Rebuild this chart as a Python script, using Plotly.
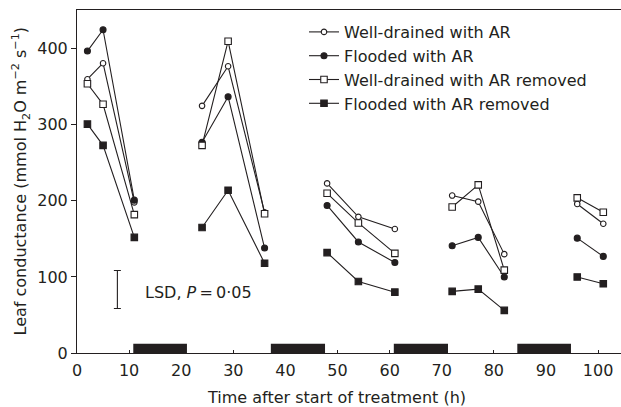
import plotly.graph_objects as go

# ---- data ----
time_groups = [[2, 5, 11], [24, 29, 36], [48, 54, 61], [72, 77, 82], [96, 101]]
wd_ar = [[360, 381, 198], [325, 377, 185], [223, 179, 163], [207, 199, 130], [196, 170]]
fl_ar = [[397, 425, 201], [277, 337, 138], [194, 146, 119], [141, 152, 100], [151, 127]]
wd_rm = [[354, 327, 182], [273, 410, 183], [210, 171, 131], [192, 221, 109], [204, 185]]
fl_rm = [[301, 273, 152], [165, 214, 118], [132, 94, 80], [81, 84, 56], [100, 91]]
series_names = ["Well-drained with AR", "Flooded with AR",
                "Well-drained with AR removed", "Flooded with AR removed"]
dark_periods = [(10.8, 21.1), (37.2, 47.6), (60.8, 71.2), (84.5, 94.8)]
dark_height = 12
lsd_x, lsd_center, lsd_half = 7.75, 83.5, 25
x_ticks = list(range(0, 101, 10))
y_ticks = [0, 100, 200, 300, 400]

INK = "#231f20"
FONT = "DejaVu Sans"


def flatten(groups_t, groups_v):
    xs, ys = [], []
    for i, (t, v) in enumerate(zip(groups_t, groups_v)):
        if i:
            xs.append(None)
            ys.append(None)
        xs += t
        ys += v
    return xs, ys


styles = [
    dict(symbol="circle", size=5.5, color="white"),
    dict(symbol="circle", size=6, color=INK),
    dict(symbol="square", size=6.5, color="white"),
    dict(symbol="square", size=6.5, color=INK),
]

fig = go.Figure()
for name, vals, st in zip(series_names, [wd_ar, fl_ar, wd_rm, fl_rm], styles):
    xs, ys = flatten(time_groups, vals)
    fig.add_trace(go.Scatter(
        x=xs, y=ys, name=name, mode="lines+markers",
        line=dict(color=INK, width=1.1),
        marker=dict(symbol=st["symbol"], size=st["size"], color=st["color"],
                    line=dict(color=INK, width=1.1)),
        connectgaps=False,
    ))

# LSD bar
fig.add_trace(go.Scatter(
    x=[lsd_x], y=[lsd_center], mode="markers", showlegend=False,
    marker=dict(size=0.1, color="rgba(0,0,0,0)"),
    error_y=dict(type="data", array=[lsd_half], color=INK, thickness=1.1, width=3.5),
    hoverinfo="skip",
))

for a, b in dark_periods:
    fig.add_shape(type="rect", xref="x", yref="y", x0=a, x1=b, y0=0, y1=dark_height,
                  fillcolor=INK, line=dict(width=0), layer="above")

fig.add_annotation(x=12.6, y=79, xref="x", yref="y", xanchor="left", yanchor="middle",
                   text="LSD, <i>P</i>\u2009=\u20090·05", showarrow=False,
                   font=dict(family=FONT, size=16, color=INK))

fig.add_annotation(x=(336 - 77) / 544, y=-0.131, xref="paper", yref="paper",
                   xanchor="center", yanchor="middle", showarrow=False,
                   text="Time after start of treatment (h)",
                   font=dict(family=FONT, size=16, color=INK))

fig.add_annotation(x=-(77 - 21) / 544, y=0.5, xref="paper", yref="paper",
                   xanchor="center", yanchor="middle", showarrow=False, textangle=-90,
                   text="Leaf conductance (mmol H<sub>2</sub>O m<sup>−2</sup> s<sup>−1</sup>)",
                   font=dict(family=FONT, size=16, color=INK))

fig.update_layout(
    width=621, height=407,
    margin=dict(l=77, r=0, t=10, b=54),
    paper_bgcolor="white", plot_bgcolor="white",
    font=dict(family=FONT, size=16, color=INK),
    showlegend=True,
    legend=dict(x=(304 - 77) / 544, y=1 - 5 / 343, xanchor="left", yanchor="top",
                bgcolor="rgba(0,0,0,0)", borderwidth=0,
                font=dict(family=FONT, size=16, color=INK),
                itemwidth=30, tracegroupgap=0),
    xaxis=dict(range=[0, 104.4], tickvals=x_ticks, ticks="inside", ticklen=3,
               tickcolor=INK, showline=True, linecolor=INK, linewidth=1.1,
               mirror=True, showgrid=False, zeroline=False, ticklabelstandoff=3,
               tickfont=dict(family=FONT, size=16, color=INK)),
    yaxis=dict(range=[0, 451], tickvals=y_ticks, ticks="outside", ticklen=5,
               tickcolor=INK, showline=True, linecolor=INK, linewidth=1.1,
               mirror=False, showgrid=False, zeroline=False,
               tickfont=dict(family=FONT, size=16, color=INK)),
)

fig.write_html("out.html")
